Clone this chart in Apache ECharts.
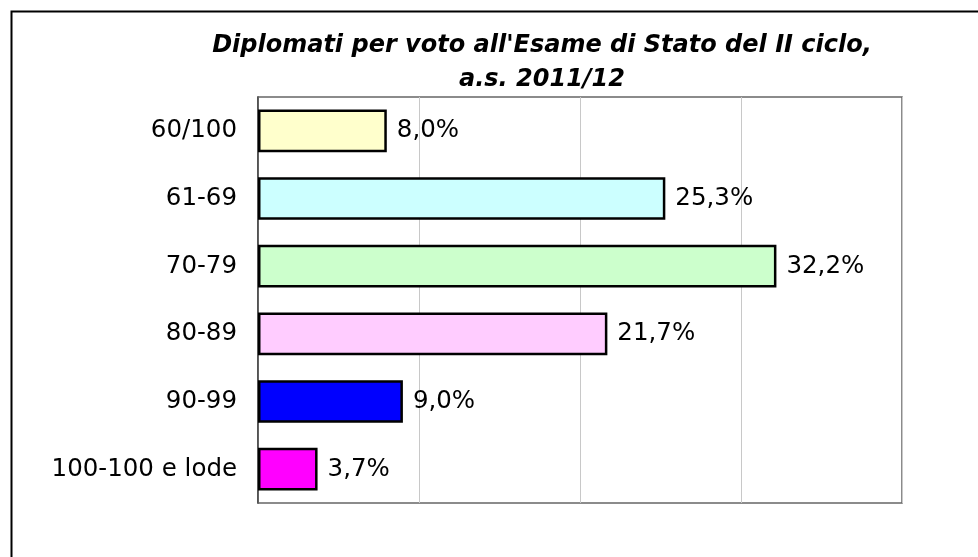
<!DOCTYPE html>
<html>
<head>
<meta charset="utf-8">
<script src="https://cdn.jsdelivr.net/npm/echarts@6/dist/echarts.min.js"></script>
<style>html,body{margin:0;padding:0;background:#fff}#c{width:978px;height:557px}</style>
</head>
<body>
<div id="c"></div>
<script>
var categories = ['60/100', '61-69', '70-79', '80-89', '90-99', '100-100 e lode'];
var values = [8.0, 25.3, 32.2, 21.7, 9.0, 3.7];
var colors = ['#FFFFCC', '#CCFFFF', '#CCFFCC', '#FFCCFF', '#0000FF', '#FF00FF'];
var titleText = "Diplomati per voto all'Esame di Stato del II ciclo,\na.s. 2011/12";

var chart = echarts.init(document.getElementById('c'), null, {renderer: 'canvas'});
var font = 'DejaVu Sans, Verdana, sans-serif';
chart.setOption({
  animation: false,
  backgroundColor: '#fff',
  graphic: [{
    type: 'rect', left: 9, top: 9,
    shape: {width: 1000, height: 600},
    style: {fill: 'none', stroke: '#000', lineWidth: 2}
  }],
  title: {
    text: titleText,
    left: 537, top: 24, textAlign: 'center',
    textStyle: {fontFamily: font, fontSize: 24, fontWeight: 'bold', fontStyle: 'italic', color: '#000', lineHeight: 34}
  },
  grid: {left: 258, right: 76, top: 97, bottom: 54, show: true, borderColor: '#666666', borderWidth: 1.5, backgroundColor: 'transparent'},
  xAxis: {
    type: 'value', min: 0, max: 40, interval: 10,
    axisLabel: {show: false}, axisTick: {show: false}, axisLine: {show: false},
    splitLine: {show: true, lineStyle: {color: '#c8c8c8', width: 1}}
  },
  yAxis: {
    type: 'category', data: categories, inverse: true,
    axisTick: {show: false},
    axisLine: {show: true, lineStyle: {color: '#404040', width: 1.5}},
    axisLabel: {fontFamily: font, fontSize: 24.5, color: '#000', margin: 21}
  },
  series: [{
    type: 'bar',
    data: values.map(function (v, i) {
      return {value: v, itemStyle: {color: colors[i]}};
    }),
    barCategoryGap: '37%',
    itemStyle: {borderColor: '#000', borderWidth: 2.5},
    label: {
      show: true, position: 'right', distance: 10,
      fontFamily: font, fontSize: 24.5, color: '#000',
      formatter: function (p) { return p.value.toFixed(1).replace('.', ',') + '%'; }
    }
  }]
});
</script>
</body>
</html>
